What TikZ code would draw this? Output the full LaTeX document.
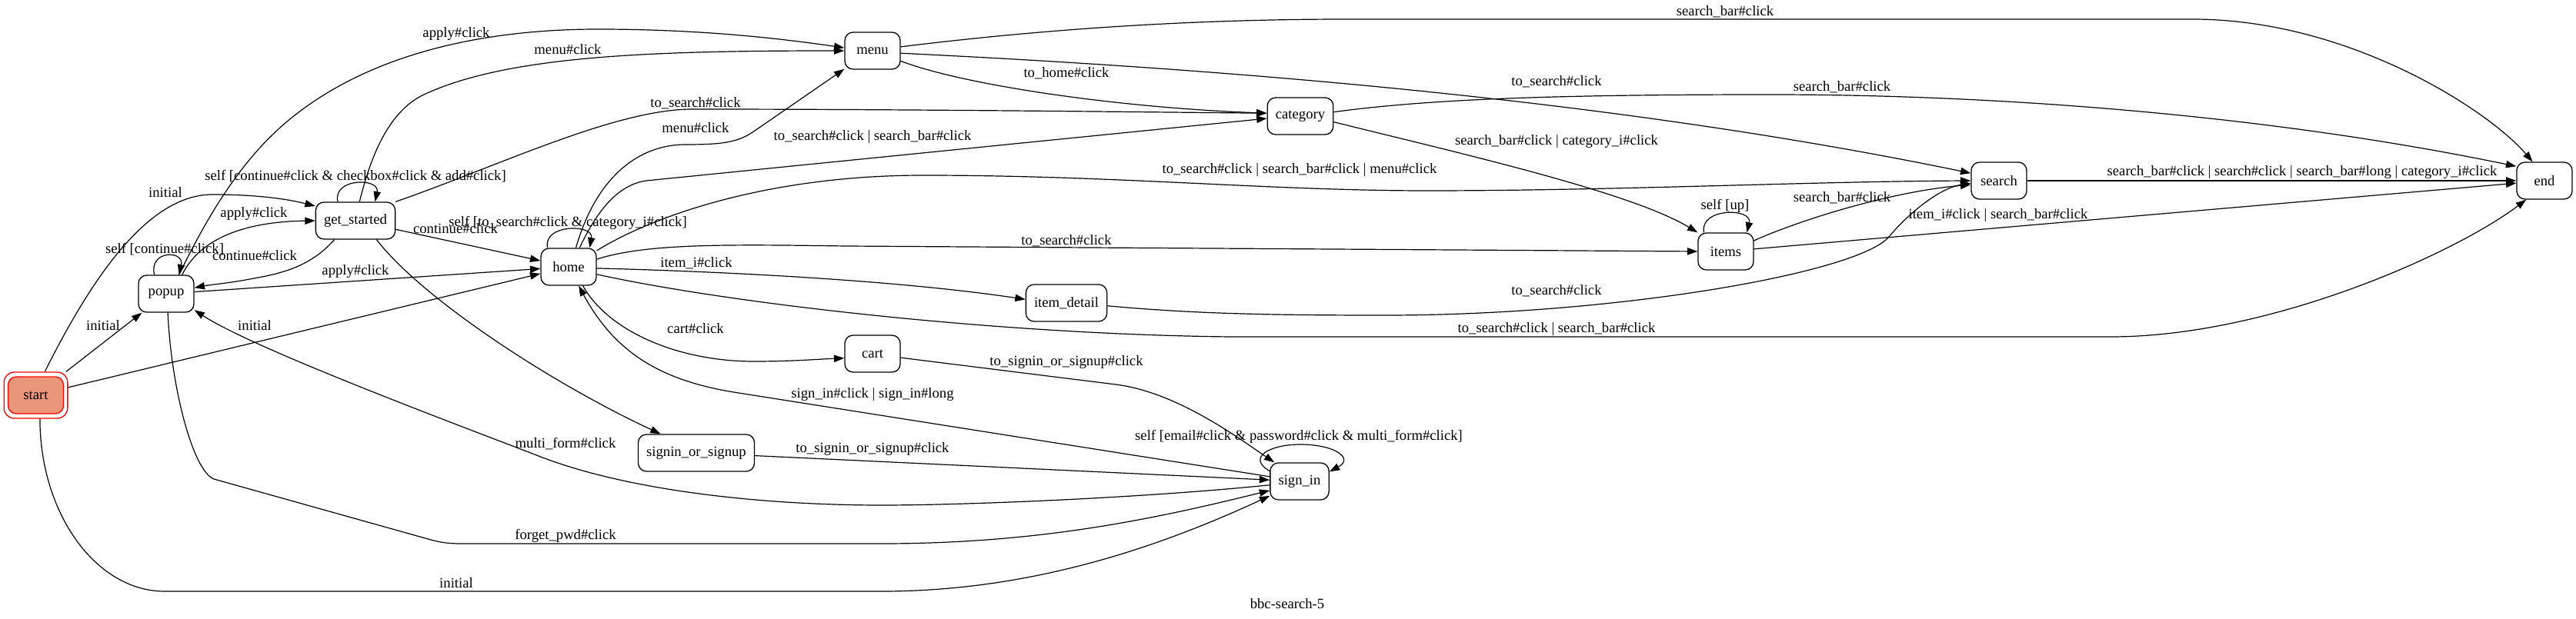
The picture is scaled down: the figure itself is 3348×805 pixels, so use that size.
\documentclass[tikz,border=0pt]{standalone}
\usepackage{fontspec}
\setmainfont{Liberation Serif}
\usetikzlibrary{arrows.meta}
\definecolor{salmonfill}{RGB}{233,150,122}
\begin{document}
\begin{tikzpicture}[x=0.75pt,y=-0.75pt,
  st/.style={draw, line width=1pt, rounded corners=8pt, minimum width=54pt, minimum height=36pt, inner xsep=8pt, inner ysep=0pt, font=\fontsize{14}{16}\selectfont},
  lbl/.style={font=\fontsize{14}{16}\selectfont, inner sep=0pt},
  conn/.style={line width=0.9pt, -{Triangle[length=10pt,width=7pt]}}]
\useasboundingbox (0,0) rectangle (3348,805);

% nodes
\node[draw=red, line width=1pt, rounded corners=10pt, minimum width=62pt, minimum height=45pt, inner sep=0pt] (start) at (46.5,514) {};
\node[st, draw=red, fill=salmonfill] (startin) at (start.center) {start};
\node[st] (popup) at (216,382) {popup};
\node[st] (get_started) at (462,287) {get\_started};
\node[st] (home) at (739,347) {home};
\node[st] (menu) at (1134,66) {menu};
\node[st] (category) at (1690,151) {category};
\node[st] (items) at (2243,327) {items};
\node[st] (search) at (2598,235) {search};
\node[st] (end) at (3307,235) {end};
\node[st] (item_detail) at (1386,394) {item\_detail};
\node[st] (cart) at (1134,460) {cart};
\node[st] (signin_or_signup) at (905,589) {signin\_or\_signup};
\node[st] (sign_in) at (1689,626) {sign\_in};
\node[lbl] (title) at (1673,785) {bbc-search-5};

% start edges
\draw[conn] (start.69) .. controls (116,368) and (190,253) .. (276,253) .. controls (330,253) and (370,258) .. (get_started.160);
\node[lbl] (l01) at (215,250) {initial};
\draw[conn] (start) -- (popup);
\node[lbl] (l02) at (134,423) {initial};
\draw[conn] (start) -- (home);
\node[lbl] (l03) at (331,423) {initial};
\draw[conn] (start.-80) .. controls (52,668) and (125,769) .. (214,769) -- (1146,769) .. controls (1350,769) and (1520,705) .. (sign_in.206);
\node[lbl] (l04) at (593,758) {initial};

% popup edges
\draw[conn] (popup.122) .. controls (193,325) and (240,325) .. (popup.56);
\node[lbl] (l05) at (214,324) {self [continue\#click]};
\draw[conn] (popup.50) .. controls (265,300) and (340,288) .. (get_started.180);
\node[lbl] (l06) at (330,278) {apply\#click};
\draw[conn] (popup) -- (home);
\node[lbl] (l08) at (462,353) {apply\#click};
\draw[conn] (popup.56) .. controls (270,281) and (315,203) .. (383,150) .. controls (491,65) and (640,38) .. (777,38) .. controls (900,38) and (1000,48) .. (menu.174);
\node[lbl] (l09) at (593,44) {apply\#click};
\draw[conn] (popup.-85) .. controls (222,500) and (250,612) .. (278,623) -- (560,702) .. controls (575,706) and (585,707) .. (600,707) -- (1146,707) .. controls (1350,707) and (1500,675) .. (sign_in.197);
\node[lbl] (l27) at (735,697) {forget\_pwd\#click};

% get_started edges
\draw[conn] (get_started.222) .. controls (405,345) and (370,355) .. (330,362) .. controls (300,368) and (275,370) .. (popup.12);
\node[lbl] (l07) at (331,332) {continue\#click};
\draw[conn] (get_started.133) .. controls (432,231) and (494,231) .. (get_started.44);
\node[lbl] (l10) at (462,229) {self [continue\#click \& checkbox\#click \& add\#click]};
\draw[conn] (get_started.78) .. controls (480,211) and (502,146) .. (551,123) .. controls (660,72) and (850,66) .. (menu.180);
\node[lbl] (l11) at (738,64) {menu\#click};
\draw[conn] (get_started) -- (home);
\node[lbl] (l12) at (592,297) {continue\#click};
\draw[conn] (get_started.north east) .. controls (650,215) and (800,142) .. (900,142) .. controls (1200,142) and (1500,146) .. (category.175);
\node[lbl] (l13) at (904,134) {to\_search\#click};
\draw[conn] (get_started.-42) .. controls (550,390) and (720,500) .. (signin_or_signup.152);

% home edges
\draw[conn] (home.138) .. controls (705,291) and (772,291) .. (home.42);
\node[lbl] (l15) at (738,290) {self [to\_search\#click \& category\_i\#click]};
\draw[conn] (home.69) .. controls (775,230) and (830,188) .. (891,188) .. controls (940,188) and (960,185) .. (981,170) -- (menu.213);
\node[lbl] (l16) at (904,166) {menu\#click};
\draw[conn] (home.60) .. controls (778,270) and (805,240) .. (840,235) -- (category.184);
\node[lbl] (l17) at (1134,178) {to\_search\#click | search\_bar\#click};
\draw[conn] (home.30) .. controls (850,280) and (1000,228) .. (1200,228) .. controls (1450,228) and (1650,248) .. (1855,248) .. controls (2100,248) and (2350,236) .. (search.180);
\node[lbl] (l18) at (1689,221) {to\_search\#click | search\_bar\#click | menu\#click};
\draw[conn] (home.15) .. controls (840,316) and (950,318) .. (1100,320) -- (items.west);
\node[lbl] (l19) at (1386,313) {to\_search\#click};
\draw[conn] (home.-3) .. controls (900,352) and (1150,362) .. (item_detail.175);
\node[lbl] (l20) at (905,342) {item\_i\#click};
\draw[conn] (home.-15) .. controls (950,395) and (1300,435) .. (1600,438) -- (2743,438) .. controls (2950,438) and (3190,330) .. (end.226);
\node[lbl] (l21) at (2023,428) {to\_search\#click | search\_bar\#click};
\draw[conn] (home.-53) .. controls (790,430) and (880,470) .. (980,470) .. controls (1030,470) and (1065,467) .. (cart.189);
\node[lbl] (l22) at (904,427) {cart\#click};

% sign_in, cart, signin_or_signup edges
\draw[conn] (sign_in.171) -- (960,511) .. controls (861,496) and (800,460) .. (home.-62);
\node[lbl] (l23) at (1134,513) {sign\_in\#click | sign\_in\#long};
\draw[conn] (cart.-8) -- (1450,500) .. controls (1530,510) and (1610,570) .. (sign_in.143);
\node[lbl] (l24) at (1386,471) {to\_signin\_or\_signup\#click};
\draw[conn] (signin_or_signup) -- (sign_in);
\node[lbl] (l25) at (1134,584) {to\_signin\_or\_signup\#click};
\draw[conn] (sign_in.187) .. controls (1480,648) and (1250,657) .. (1146,657) .. controls (1000,657) and (820,640) .. (700,593) .. controls (607,557) and (330,454) .. (popup.-30);
\node[lbl] (l26) at (735,577) {multi\_form\#click};
\draw[conn] (sign_in.161) .. controls (1620,595) and (1650,578) .. (1690,578) .. controls (1735,578) and (1760,596) .. (sign_in.18);
\node[lbl] (l28) at (1688,568) {self [email\#click \& password\#click \& multi\_form\#click]};

% menu edges
\draw[conn] (menu.8) .. controls (1300,45) and (1500,25) .. (1750,25) -- (2850,25) .. controls (3050,25) and (3232,141) .. (end.122);
\node[lbl] (l29) at (2242,15) {search\_bar\#click};
\draw[conn] (menu.-5) .. controls (1600,90) and (2100,130) .. (search.165);
\node[lbl] (l30) at (2023,106) {to\_search\#click};
\draw[conn] (menu.-20) .. controls (1250,110) and (1450,140) .. (category.175);
\node[lbl] (l31) at (1386,95) {to\_home\#click};

% category edges
\draw[conn] (category.7) .. controls (1850,130) and (2000,123) .. (2300,123) .. controls (2600,123) and (2950,150) .. (end.153);
\node[lbl] (l32) at (2394,113) {search\_bar\#click};
\draw[conn] (category.-10) .. controls (1900,200) and (2120,250) .. (items.north west);
\node[lbl] (l33) at (2023,184) {search\_bar\#click | category\_i\#click};

% items edges
\draw[conn] (items.139) .. controls (2208,270) and (2278,270) .. (items.42);
\node[lbl] (l34) at (2242,268) {self [up]};
\draw[conn] (items.21) .. controls (2330,290) and (2450,250) .. (search.188);
\node[lbl] (l35) at (2394,257) {search\_bar\#click};
\draw[conn] (items) -- (end);
\node[lbl] (l36) at (2597,280) {item\_i\#click | search\_bar\#click};

% item_detail, search edges
\draw[conn] (item_detail.-4) .. controls (1550,408) and (1650,410) .. (1800,410) .. controls (2100,410) and (2415,355) .. (2455,308) .. controls (2480,278) and (2520,245) .. (search.185);
\node[lbl] (l37) at (2023,378) {to\_search\#click};
\draw[conn] (search) -- (end);
\node[lbl] (l38) at (2992,224) {search\_bar\#click | search\#click | search\_bar\#long | category\_i\#click};
\end{tikzpicture}
\end{document}
